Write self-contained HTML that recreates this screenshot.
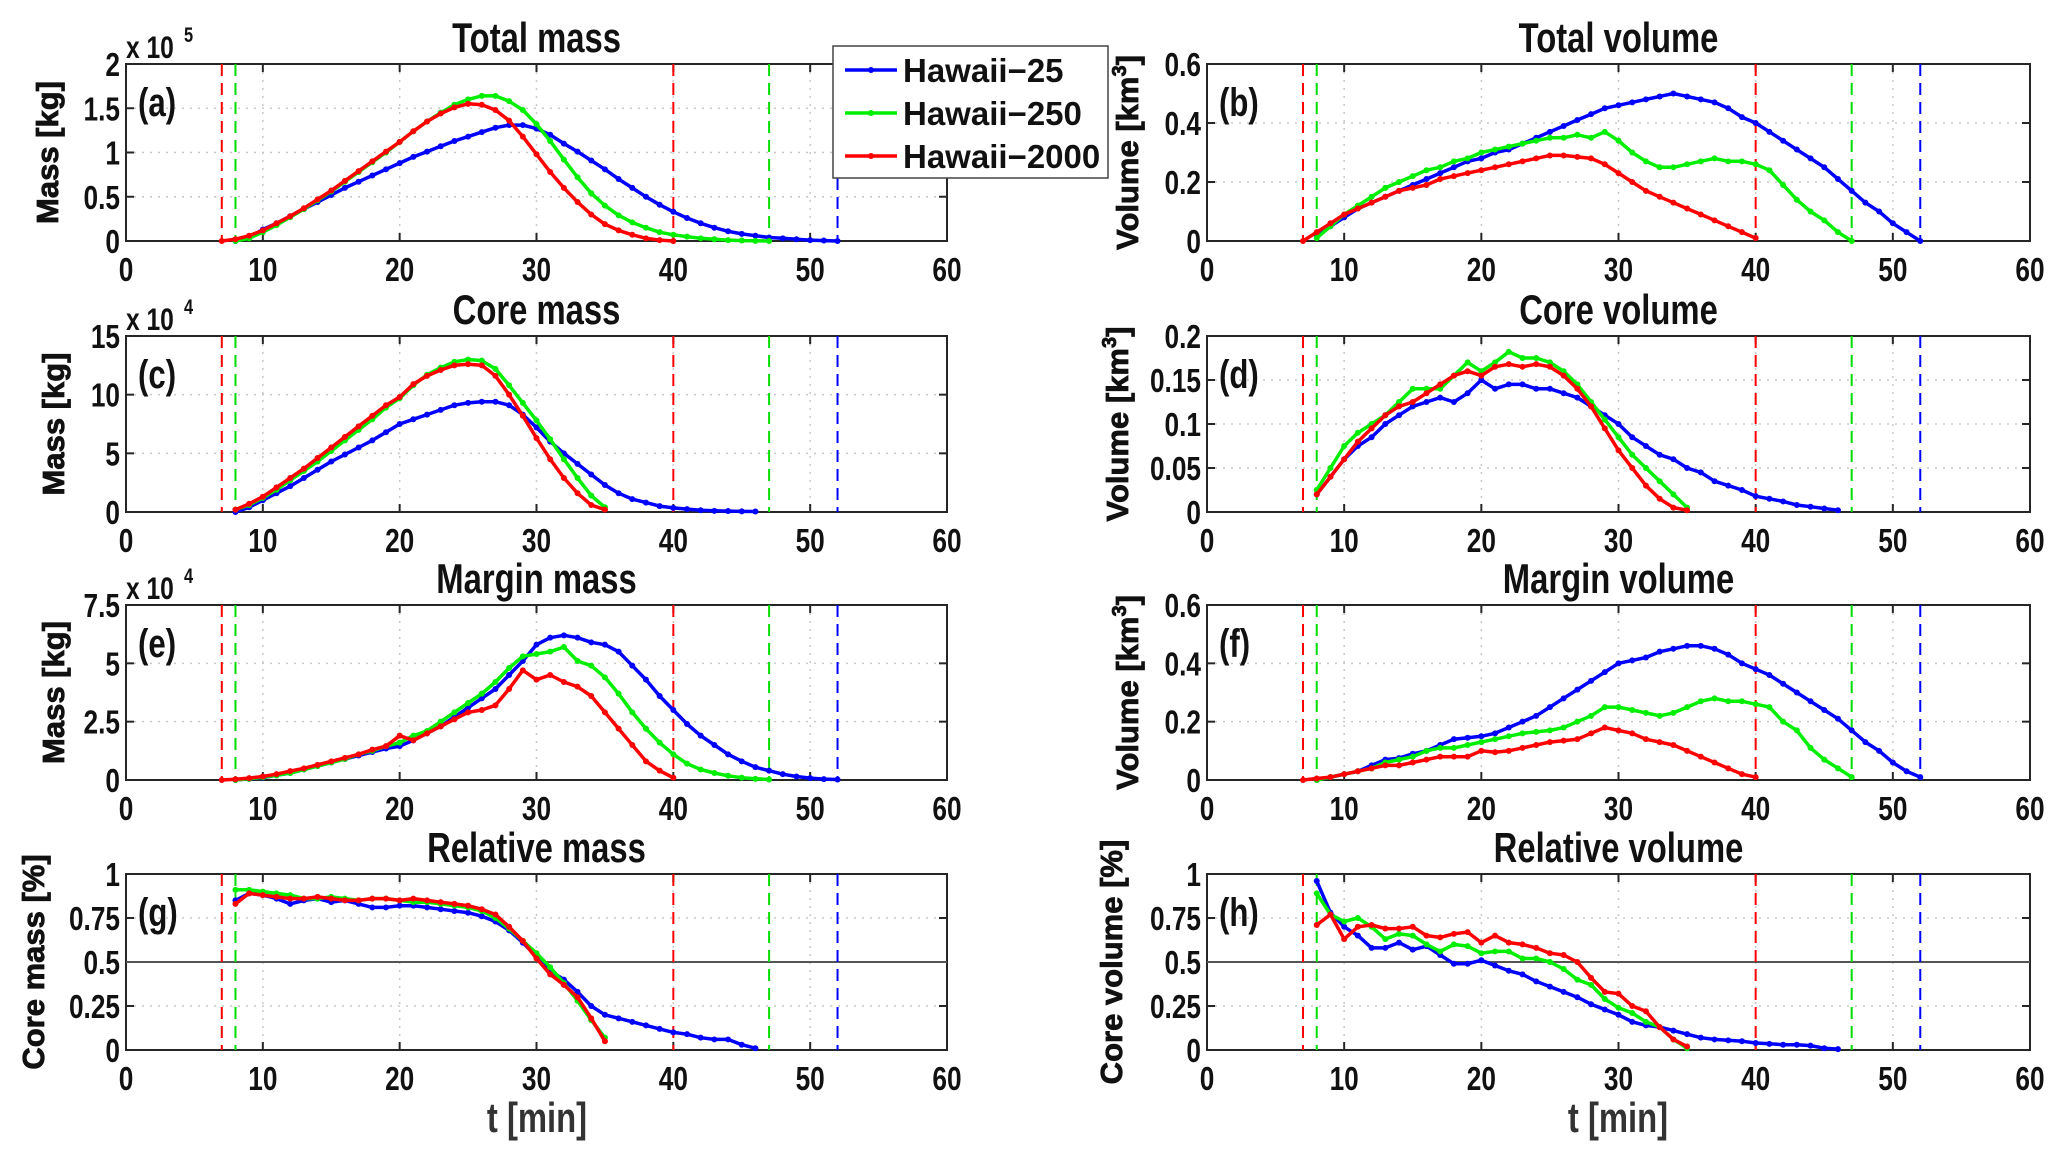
<!DOCTYPE html>
<html><head><meta charset="utf-8"><style>
html,body{margin:0;padding:0;background:#fff;}
svg{display:block;font-family:"Liberation Sans",sans-serif;font-weight:bold;}
</style></head><body>
<svg id="fig" width="2067" height="1161" viewBox="0 0 2067 1161" xmlns="http://www.w3.org/2000/svg"></svg>
<script>
const seriesNames = ['Hawaii\u221225','Hawaii\u2212250','Hawaii\u22122000'];
const seriesColors = ['#0000ff','#00ee00','#ff0000'];
const xTicks = [0,10,20,30,40,50,60];
const vlinesT = [7,8,40,47,52];
const vlinesColor = ['#ff0000','#00dd00','#ff0000','#00dd00','#0000ff'];

// (a) total mass x1e5
const aStart = [8,8,7];
const aBlue = [0,0.04,0.13,0.2,0.28,0.36,0.44,0.52,0.6,0.67,0.74,0.81,0.88,0.95,1.01,1.07,1.13,1.18,1.23,1.28,1.31,1.31,1.27,1.2,1.1,1.01,0.91,0.81,0.7,0.6,0.5,0.41,0.33,0.26,0.2,0.15,0.11,0.08,0.06,0.04,0.03,0.02,0.01,0.005,0];
const aGreen = [0,0.03,0.1,0.18,0.27,0.36,0.46,0.56,0.67,0.78,0.89,1.0,1.12,1.24,1.35,1.45,1.54,1.6,1.64,1.64,1.58,1.48,1.32,1.13,0.92,0.72,0.54,0.4,0.29,0.21,0.15,0.1,0.07,0.05,0.03,0.02,0.01,0.005,0.002,0];
const aRed = [0,0.02,0.06,0.12,0.2,0.28,0.37,0.47,0.57,0.68,0.79,0.9,1.01,1.12,1.24,1.35,1.44,1.51,1.55,1.54,1.48,1.36,1.18,0.98,0.78,0.6,0.44,0.3,0.19,0.12,0.07,0.03,0.01,0];
const aTicks = ['0','0.5','1','1.5','2'];
// (b) total volume
const bStart = [8,8,7];
const bBlue = [0.02,0.05,0.08,0.11,0.13,0.15,0.17,0.19,0.21,0.23,0.25,0.27,0.28,0.3,0.31,0.33,0.35,0.37,0.39,0.41,0.43,0.45,0.46,0.47,0.48,0.49,0.5,0.49,0.48,0.47,0.45,0.42,0.4,0.37,0.34,0.31,0.28,0.25,0.21,0.17,0.13,0.1,0.06,0.03,0];
const bGreen = [0.01,0.05,0.09,0.12,0.15,0.18,0.2,0.22,0.24,0.25,0.27,0.28,0.3,0.31,0.32,0.33,0.34,0.35,0.35,0.36,0.35,0.37,0.34,0.3,0.27,0.25,0.25,0.26,0.27,0.28,0.27,0.27,0.26,0.24,0.19,0.14,0.1,0.07,0.03,0];
const bRed = [0,0.03,0.06,0.09,0.11,0.13,0.15,0.17,0.18,0.19,0.21,0.22,0.23,0.24,0.25,0.26,0.27,0.28,0.29,0.29,0.285,0.28,0.26,0.23,0.2,0.17,0.15,0.13,0.11,0.09,0.07,0.05,0.03,0.01];
const bTicks = ['0','0.2','0.4','0.6'];
// (c) core mass x1e4
const cStart = [8,8,8];
const cBlue = [0,0.4,1.0,1.6,2.2,2.9,3.6,4.3,4.9,5.5,6.1,6.8,7.5,7.9,8.3,8.7,9.1,9.3,9.4,9.4,9.1,8.3,7.2,6.0,5.0,4.1,3.2,2.3,1.6,1.1,0.8,0.5,0.35,0.25,0.15,0.1,0.08,0.05,0.04];
const cGreen = [0.2,0.6,1.2,1.9,2.7,3.5,4.3,5.2,6.1,7.0,7.9,8.9,9.7,10.8,11.7,12.3,12.8,13.0,12.9,12.2,10.8,9.3,7.8,6.2,4.5,2.9,1.4,0.4];
const cRed = [0.2,0.7,1.3,2.1,2.9,3.7,4.6,5.5,6.4,7.3,8.2,9.1,9.8,10.9,11.6,12.1,12.5,12.6,12.5,11.6,10.0,8.2,6.3,4.5,2.9,1.6,0.6,0.2];
const cTicks = ['0','5','10','15'];
// (d) core volume
const dStart = [8,8,8];
const dBlue = [0.02,0.04,0.06,0.075,0.085,0.1,0.11,0.12,0.125,0.13,0.125,0.135,0.15,0.14,0.145,0.145,0.14,0.14,0.135,0.13,0.12,0.11,0.1,0.085,0.075,0.065,0.06,0.05,0.045,0.035,0.03,0.025,0.018,0.015,0.012,0.008,0.006,0.004,0.002];
const dGreen = [0.025,0.05,0.075,0.09,0.1,0.11,0.125,0.14,0.14,0.14,0.155,0.17,0.16,0.17,0.182,0.175,0.175,0.17,0.16,0.145,0.125,0.105,0.085,0.065,0.05,0.035,0.02,0.005];
const dRed = [0.02,0.04,0.06,0.08,0.095,0.11,0.12,0.125,0.135,0.145,0.155,0.16,0.155,0.165,0.168,0.165,0.168,0.165,0.155,0.14,0.12,0.095,0.07,0.05,0.03,0.015,0.005,0.002];
const dTicks = ['0','0.05','0.1','0.15','0.2'];
// (e) margin mass x1e4
const eStart = [8,8,7];
const eBlue = [0,0.05,0.1,0.2,0.3,0.45,0.6,0.75,0.9,1.05,1.2,1.35,1.45,1.7,2.0,2.3,2.7,3.1,3.5,3.9,4.5,5.1,5.8,6.1,6.2,6.1,5.9,5.8,5.5,4.9,4.3,3.6,3.0,2.4,1.9,1.5,1.1,0.8,0.55,0.4,0.25,0.15,0.08,0.04,0.02];
const eGreen = [0,0.05,0.12,0.2,0.3,0.45,0.6,0.75,0.9,1.1,1.25,1.45,1.6,1.9,2.1,2.5,2.9,3.3,3.7,4.2,4.8,5.3,5.4,5.5,5.7,5.1,4.9,4.4,3.7,2.9,2.2,1.6,1.1,0.7,0.45,0.3,0.18,0.1,0.05,0.02];
const eRed = [0,0.03,0.08,0.15,0.25,0.38,0.5,0.65,0.8,0.95,1.1,1.3,1.45,1.9,1.7,2.0,2.3,2.6,2.9,3.0,3.2,3.9,4.7,4.3,4.5,4.2,4.0,3.6,2.9,2.2,1.5,0.8,0.4,0.1];
const eTicks = ['0','2.5','5','7.5'];
// (f) margin volume
const fStart = [8,8,7];
const fBlue = [0,0.01,0.02,0.03,0.05,0.07,0.075,0.09,0.1,0.12,0.14,0.145,0.15,0.16,0.18,0.2,0.22,0.25,0.28,0.31,0.34,0.37,0.4,0.41,0.42,0.44,0.45,0.46,0.46,0.45,0.43,0.4,0.38,0.36,0.33,0.3,0.27,0.24,0.21,0.17,0.13,0.1,0.06,0.03,0.01];
const fGreen = [0,0.01,0.02,0.03,0.04,0.06,0.07,0.08,0.1,0.11,0.11,0.12,0.13,0.14,0.15,0.16,0.165,0.17,0.18,0.2,0.22,0.25,0.25,0.24,0.23,0.22,0.23,0.25,0.27,0.28,0.27,0.27,0.26,0.25,0.2,0.17,0.11,0.07,0.04,0.01];
const fRed = [0,0.005,0.01,0.02,0.03,0.04,0.05,0.05,0.06,0.07,0.08,0.08,0.08,0.1,0.095,0.1,0.11,0.12,0.13,0.135,0.14,0.16,0.18,0.17,0.16,0.14,0.13,0.12,0.1,0.08,0.06,0.04,0.02,0.01];
const fTicks = ['0','0.2','0.4','0.6'];
// (g) relative mass
const gStart = [8,8,8];
const gBlue = [0.85,0.89,0.88,0.86,0.83,0.85,0.86,0.84,0.85,0.83,0.81,0.81,0.82,0.82,0.81,0.8,0.79,0.78,0.76,0.73,0.68,0.61,0.53,0.45,0.4,0.33,0.25,0.2,0.18,0.16,0.14,0.12,0.1,0.09,0.07,0.06,0.06,0.03,0.01];
const gGreen = [0.91,0.91,0.9,0.89,0.88,0.86,0.86,0.87,0.86,0.85,0.86,0.86,0.85,0.84,0.84,0.83,0.82,0.81,0.79,0.75,0.69,0.62,0.55,0.47,0.38,0.28,0.17,0.07];
const gRed = [0.83,0.89,0.88,0.87,0.86,0.86,0.87,0.86,0.85,0.85,0.86,0.86,0.85,0.86,0.85,0.84,0.83,0.82,0.8,0.77,0.7,0.62,0.52,0.43,0.37,0.3,0.18,0.05];
const gTicks = ['0','0.25','0.5','0.75','1'];
// (h) relative volume
const hStart = [8,8,8];
const hBlue = [0.96,0.78,0.7,0.65,0.58,0.58,0.61,0.57,0.59,0.54,0.49,0.49,0.51,0.48,0.45,0.43,0.39,0.36,0.33,0.3,0.26,0.23,0.2,0.16,0.14,0.13,0.11,0.09,0.07,0.06,0.055,0.05,0.04,0.035,0.03,0.03,0.025,0.01,0.005];
const hGreen = [0.89,0.77,0.73,0.75,0.7,0.63,0.66,0.65,0.6,0.56,0.6,0.59,0.55,0.56,0.56,0.52,0.52,0.5,0.46,0.4,0.37,0.29,0.24,0.21,0.16,0.13,0.06,0.01];
const hRed = [0.71,0.77,0.63,0.7,0.71,0.69,0.69,0.7,0.65,0.64,0.66,0.67,0.61,0.65,0.61,0.6,0.58,0.55,0.54,0.5,0.41,0.33,0.32,0.25,0.22,0.13,0.06,0.02];
const hTicks = ['0','0.25','0.5','0.75','1'];

const NS='http://www.w3.org/2000/svg';
const svg=document.getElementById('fig');
function el(tag,attrs,parent,text){const e=document.createElementNS(NS,tag);for(const k in attrs)e.setAttribute(k,attrs[k]);if(text!==undefined)e.textContent=text;(parent||svg).appendChild(e);return e;}

const L={x0:126,x1:947}, R={x0:1207,x1:2030};
const rows=[{t:64,b:241},{t:336,b:512},{t:605,b:780},{t:874,b:1050}];
const panels=[
 {id:'a',col:L,row:0,title:'Total mass',ymax:2,ticks:aTicks,data:[aBlue,aGreen,aRed],start:aStart,ylab:'Mass [kg]',exp:'5',ylx:58},
 {id:'b',col:R,row:0,title:'Total volume',ymax:0.6,ticks:bTicks,data:[bBlue,bGreen,bRed],start:bStart,ylab:'Volume [km3]',ylx:1138},
 {id:'c',col:L,row:1,title:'Core mass',ymax:15,ticks:cTicks,data:[cBlue,cGreen,cRed],start:cStart,ylab:'Mass [kg]',exp:'4',ylx:64},
 {id:'d',col:R,row:1,title:'Core volume',ymax:0.2,ticks:dTicks,data:[dBlue,dGreen,dRed],start:dStart,ylab:'Volume [km3]',ylx:1128},
 {id:'e',col:L,row:2,title:'Margin mass',ymax:7.5,ticks:eTicks,data:[eBlue,eGreen,eRed],start:eStart,ylab:'Mass [kg]',exp:'4',ylx:64},
 {id:'f',col:R,row:2,title:'Margin volume',ymax:0.6,ticks:fTicks,data:[fBlue,fGreen,fRed],start:fStart,ylab:'Volume [km3]',ylx:1138},
 {id:'g',col:L,row:3,title:'Relative mass',ymax:1,ticks:gTicks,data:[gBlue,gGreen,gRed],start:gStart,ylab:'Core mass [%]',ylx:44,half:true},
 {id:'h',col:R,row:3,title:'Relative volume',ymax:1,ticks:hTicks,data:[hBlue,hGreen,hRed],start:hStart,ylab:'Core volume [%]',ylx:1122,half:true},
];

function condensedText(parent,x,y,size,anchor,str){
  const t=el('text',{x:0,y:0,'font-size':size,'text-anchor':anchor,fill:'#111',transform:'translate('+x+' '+y+') scale(0.82 1.05)'},parent,str);
  return t;
}

panels.forEach(p=>{
  const g=el('g',{});
  
  
  const x0=p.col.x0,x1=p.col.x1,yt=rows[p.row].t,yb=rows[p.row].b;
  const xs=t=>x0+(t/60)*(x1-x0);
  const ys=v=>yb-(v/p.ymax)*(yb-yt);
  xTicks.forEach(t=>{ if(t>0&&t<60){const l=el('line',{x1:xs(t),x2:xs(t),y1:yt,y2:yb,stroke:'#c8c8c8','stroke-width':1.5,'stroke-dasharray':'2 6'},g);}});
  p.ticks.forEach(tk=>{const v=parseFloat(tk); if(v>0&&v<p.ymax){const l=el('line',{x1:x0,x2:x1,y1:ys(v),y2:ys(v),stroke:'#c8c8c8','stroke-width':1.5,'stroke-dasharray':'2 6'},g);}});
  const fr=el('rect',{x:x0,y:yt,width:x1-x0,height:yb-yt,fill:'none',stroke:'#262626','stroke-width':2},g);
  
  
  xTicks.forEach(t=>{
    el('line',{x1:xs(t),x2:xs(t),y1:yb,y2:yb-8,stroke:'#262626','stroke-width':2},g);
    el('line',{x1:xs(t),x2:xs(t),y1:yt,y2:yt+8,stroke:'#262626','stroke-width':2},g);
    const tx=condensedText(g,xs(t),yb+40,32,'middle',String(t));
    
    
  });
  p.ticks.forEach(tk=>{
    const v=parseFloat(tk);
    el('line',{x1:x0,x2:x0+8,y1:ys(v),y2:ys(v),stroke:'#262626','stroke-width':2},g);
    el('line',{x1:x1,x2:x1-8,y1:ys(v),y2:ys(v),stroke:'#262626','stroke-width':2},g);
    const tx=condensedText(g,x0-6,ys(v)+12,32,'end',tk);
    
    
  });
  if(p.half){const hl=el('line',{x1:x0,x2:x1,y1:ys(0.5),y2:ys(0.5),stroke:'#555','stroke-width':2},g);}
  vlinesT.forEach((t,i)=>{const l=el('line',{x1:xs(t),x2:xs(t),y1:yt,y2:yb,stroke:vlinesColor[i],'stroke-width':2,'stroke-dasharray':'12 7'},g);});
  p.data.forEach((arr,si)=>{
    const pts=arr.map((v,i)=>xs(p.start[si]+i).toFixed(1)+','+ys(v).toFixed(1)).join(' ');
    const pl=el('polyline',{points:pts,fill:'none',stroke:seriesColors[si],'stroke-width':3.5,'stroke-linejoin':'round'},g);
    
    
    arr.forEach((v,i)=>{el('circle',{cx:xs(p.start[si]+i),cy:ys(v),r:3,fill:seriesColors[si]},g);});
  });
  const ti=condensedText(g,(x0+x1)/2,yt-12,40,'middle',p.title);
  
  
  const lb=condensedText(g,x0+12,yt+52,38,'start','('+p.id+')');
  
  
  if(p.exp){
    const ex=condensedText(g,x0,yt-6,30,'start','x 10');
    
    
    condensedText(g,x0+58,yt-22,20,'start',p.exp);
  }
  const cy=(yt+yb)/2;
  const yl=el('text',{x:p.ylx,y:cy,'font-size':31,'text-anchor':'middle',fill:'#111',stroke:'#111','stroke-width':0.8,transform:'rotate(-90 '+p.ylx+' '+cy+')'},g);
  
  
  if(p.ylab.indexOf('km3')>=0){
    el('tspan',{},yl,'Volume [km');
    el('tspan',{dy:-12,'font-size':20},yl,'3');
    el('tspan',{dy:12},yl,']');
  } else yl.textContent=p.ylab;
});
[[537,'left'],[1618,'right']].forEach(([x,n])=>{
  const t=condensedText(svg,x,1132,40,'middle','t [min]');
  t.setAttribute('fill','#333');
  
  
});
const lg=el('g',{});


el('rect',{x:833,y:46,width:275,height:132,fill:'#fff',stroke:'#444','stroke-width':1.5},lg);
seriesNames.forEach((n,i)=>{
  const y=70+i*43;
  const ln=el('line',{x1:845,x2:897,y1:y,y2:y,stroke:seriesColors[i],'stroke-width':3.5},lg);
  
  
  el('circle',{cx:871,cy:y,r:3,fill:seriesColors[i]},lg);
  const t=el('text',{x:903,y:y+12,'font-size':33,fill:'#111'},lg,n);
  
  
});
</script>
</body></html>
